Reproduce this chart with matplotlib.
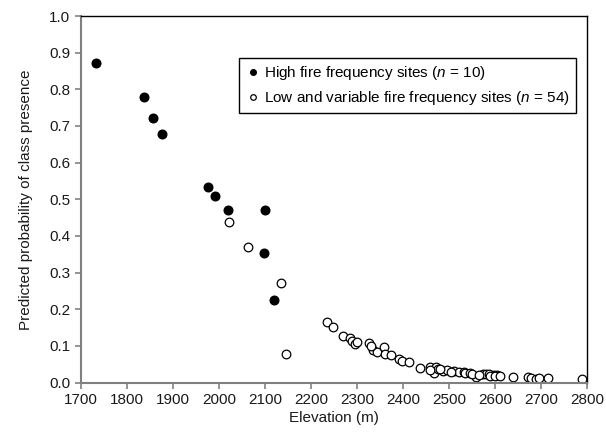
import matplotlib
matplotlib.use("Agg")
import matplotlib.pyplot as plt

plt.rcParams['font.family'] = ['Liberation Sans', 'DejaVu Sans']
plt.rcParams['mathtext.fontset'] = 'custom'
plt.rcParams['mathtext.it'] = 'Liberation Sans:italic'
plt.rcParams['mathtext.rm'] = 'Liberation Sans'

# high fire frequency sites (n = 10)
high_elev = [1733, 1838, 1858, 1876, 1976, 1992, 2021, 2100, 2098, 2121]
high_prob = [0.873, 0.778, 0.722, 0.677, 0.534, 0.510, 0.471, 0.471, 0.354, 0.225]

# low and variable fire frequency sites (n = 54)
low_elev = [2022, 2064, 2135, 2147,
            2235, 2249, 2269, 2285, 2290, 2296, 2300, 2327, 2334, 2344,
            2358, 2361, 2392, 2398, 2414, 2437, 2458, 2467, 2472, 2476,
            2488, 2496, 2510, 2523, 2532, 2536, 2545, 2559, 2574, 2581,
            2588, 2597, 2604, 2640, 2672, 2678, 2690, 2695, 2715, 2790,
            2330, 2375, 2460, 2480, 2505, 2550, 2565, 2590, 2600, 2610]
low_prob = [0.437, 0.370, 0.272, 0.078,
            0.164, 0.152, 0.128, 0.122, 0.113, 0.106, 0.110, 0.107, 0.090, 0.082,
            0.096, 0.077, 0.064, 0.059, 0.055, 0.040, 0.043, 0.025, 0.043, 0.036,
            0.031, 0.034, 0.032, 0.029, 0.028, 0.027, 0.025, 0.016, 0.024, 0.022,
            0.022, 0.020, 0.020, 0.016, 0.014, 0.011, 0.009, 0.011, 0.011, 0.009,
            0.100, 0.075, 0.035, 0.038, 0.030, 0.024, 0.020, 0.019, 0.018, 0.017]

fig = plt.figure(figsize=(6.06, 4.42), dpi=100)
ax = fig.add_axes([0.1332, 0.1346, 0.8354, 0.8292])

ax.plot(high_elev, high_prob, 'o', ms=6.2, mfc='black', mec='black',
        label='High fire frequency sites ($n$ = 10)')
ax.plot(low_elev, low_prob, 'o', ms=6.2, mfc='white', mec='black', mew=0.9,
        label='Low and variable fire frequency sites ($n$ = 54)')

ax.set_xlim(1700, 2800)
ax.set_ylim(0, 1.0)
ax.set_xticks(range(1700, 2801, 100))
ax.set_yticks([i / 10 for i in range(11)])
ax.set_yticklabels(['%.1f' % (i / 10) for i in range(11)])

grey = '#808080'
for s in ['left', 'bottom']:
    ax.spines[s].set_color(grey)
    ax.spines[s].set_linewidth(1.5)
for s in ['top', 'right']:
    ax.spines[s].set_color('black')
    ax.spines[s].set_linewidth(1.0)
ax.tick_params(axis='both', colors=grey, labelcolor='#1a1a1a', labelsize=11,
               length=4, width=1.2, direction='out')

ax.set_xlabel('Elevation (m)', fontsize=11, color='#1a1a1a', labelpad=3)
ax.set_ylabel('Predicted probability of class presence', fontsize=11,
              color='#1a1a1a', labelpad=12)

leg = ax.legend(loc='upper right', bbox_to_anchor=(0.978, 0.885), fontsize=11,
                fancybox=False, edgecolor='black', framealpha=1,
                handletextpad=0.2, handlelength=1.0, borderpad=0.4,
                labelspacing=0.45, markerscale=0.65, borderaxespad=0)
leg.get_frame().set_linewidth(1.0)

fig.savefig('out.png', dpi=100)
